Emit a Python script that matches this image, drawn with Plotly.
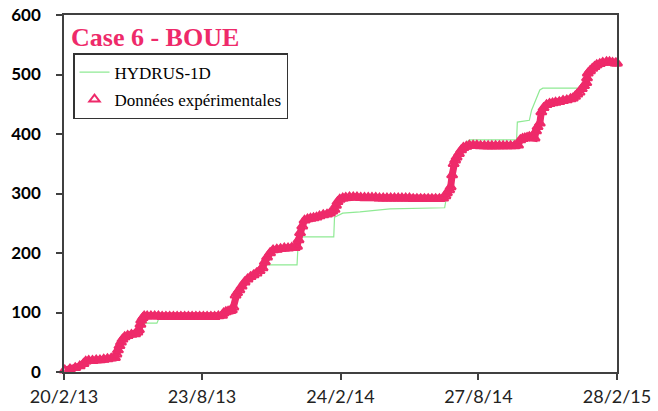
import datetime as dt
import plotly.graph_objects as go

# Start date of the monitoring period; series below are given as day offsets from it
START = dt.date(2013, 2, 20)

# Measured cumulative values (Données expérimentales)
exp_day = [1, 8, 15, 21, 26, 29, 33, 38, 43, 48, 53, 58, 63, 68, 70, 72, 74, 76, 78, 81,
           85, 90, 95, 98, 100, 102, 103, 105, 107,
           111, 116, 121, 126, 131, 136, 141, 146, 151, 156, 161, 166, 171, 176, 181, 186,
           191, 196, 201, 206, 211,
           213, 216, 219, 222, 224, 226, 229, 231, 234, 237, 241, 245, 249, 253, 257, 261,
           265, 268, 271, 275, 279, 284, 289, 294, 299, 304, 308, 311, 313, 315, 318, 321,
           325, 329, 333, 337, 341, 346, 351, 355, 358, 361, 363, 365, 368, 372, 376, 381,
           386, 391, 396, 401, 406, 411, 416, 421, 426, 431, 436, 441, 446, 451, 456, 461,
           466, 471, 476, 481, 486, 491, 496, 501, 506,
           509, 511, 514, 516, 518, 520, 522, 524, 527, 530, 533, 537, 541,
           546, 551, 556, 561, 566, 571, 576, 581, 586, 591, 596, 601, 606,
           609, 612, 615, 618, 621, 624, 628, 630, 632, 635, 637, 640, 644, 648, 652, 656,
           661, 666, 671, 676, 679, 682, 685, 688, 691, 694, 697, 698, 699, 702, 705, 708,
           711, 715, 719, 724, 728, 732, 736, 738]
exp_val = [3, 5, 7, 10, 14, 18, 19, 19, 20, 20, 21, 22, 23, 24, 30, 37, 44, 50, 55, 59,
           61, 63, 64, 67, 71, 80, 87, 91, 94,
           94, 94, 94, 94, 93, 93, 93, 93, 93, 93, 93, 93, 93, 93, 93, 93,
           93, 93, 93, 94, 95,
           99, 101, 102, 103, 104, 109, 129, 133, 138, 144, 151, 156, 160, 163, 166, 170,
           175, 185, 193, 200, 205, 206, 207, 208, 208, 209, 209, 211, 222, 234, 245, 255,
           257, 258, 259, 260, 262, 264, 265, 267, 270, 273, 280, 286, 290, 292, 293, 294,
           294, 294, 293, 293, 293, 293, 293, 292, 292, 292, 292, 292, 292, 292, 292, 292,
           291, 291, 291, 291, 291, 291, 291, 291, 292,
           296, 301, 306, 311, 331, 350, 356, 361, 367, 373, 377, 379, 381,
           381, 381, 380, 380, 380, 380, 380, 380, 380, 380, 380, 380, 381,
           390, 392, 393, 394, 395, 394, 393, 405, 412, 418, 437, 444, 449, 451, 452, 453,
           454, 456, 457, 459, 460, 463, 467, 470, 476, 481, 486, 494, 502, 506, 510, 513,
           516, 518, 520, 521, 521, 520, 519, 519]

# Simulated cumulative values (HYDRUS-1D)
hyd_day = [0, 10, 25, 30, 68, 75, 82, 95, 100, 103, 124, 127, 211, 224, 228, 239, 265, 271,
           311, 312, 315, 319, 360, 361, 372, 395, 435, 508, 512, 517, 528, 541, 604, 605,
           621, 624, 635, 639, 692, 697, 711, 724, 738]
hyd_val = [0, 3, 10, 17, 22, 45, 57, 62, 68, 82, 82, 91, 92, 100, 124, 143, 171, 180,
           180, 205, 225, 227, 227, 260, 267, 269, 274, 276, 306, 348, 376, 390, 390, 420,
           423, 440, 474, 477, 477, 490, 516, 521, 519]

tick_dates = ["2013-02-20", "2013-08-23", "2014-02-24", "2014-08-27", "2015-02-28"]
tick_text = ["20/2/13", "23/8/13", "24/2/14", "27/8/14", "28/2/15"]

PINK = "#EE2A6A"
GREEN = "#8FEA94"
AXIS = "#404040"

# plot-area geometry in pixels
L, R, T, B = 64, 617, 15, 372
W, H = 658, 411


def to_dates(days):
    return [START + dt.timedelta(days=d) for d in days]


fig = go.Figure()
fig.add_trace(go.Scatter(
    x=to_dates(hyd_day), y=hyd_val, mode="lines", name="HYDRUS-1D",
    line=dict(color=GREEN, width=1.2), legendgroup="a",
))
# dense daily measurements merge into a solid band; the band is drawn under the markers
fig.add_trace(go.Scatter(
    x=to_dates(exp_day), y=exp_val, mode="lines", showlegend=False,
    line=dict(color=PINK, width=7), cliponaxis=False, hoverinfo="skip",
))
fig.add_trace(go.Scatter(
    x=to_dates(exp_day), y=exp_val, mode="markers", name="Données expérimentales",
    marker=dict(symbol="triangle-up-open", size=9, color=PINK, line=dict(width=2, color=PINK)),
    cliponaxis=False, legendgroup="b",
))

fig.update_layout(
    width=W, height=H,
    margin=dict(l=L, r=W - R, t=T, b=H - B, autoexpand=False),
    paper_bgcolor="white", plot_bgcolor="white",
    showlegend=True,
    legend=dict(
        x=(73 - L) / (R - L), y=(B - 53) / (B - T), xanchor="left", yanchor="top",
        bgcolor="white", bordercolor="#333333", borderwidth=1.5,
        font=dict(family="Liberation Serif", size=17, color="black"),
        traceorder="grouped", tracegroupgap=2,
        itemwidth=30,
    ),
    annotations=[dict(
        text="<b>Case 6 - BOUE</b>",
        x=(69 - L) / (R - L), y=(B - 37) / (B - T), xref="paper", yref="paper",
        showarrow=False,
        font=dict(family="Liberation Serif", size=26, color=PINK),
        xanchor="left", yanchor="middle",
    )],
)

fig.update_xaxes(
    type="date", range=["2013-02-20", "2015-02-28"],
    tickvals=tick_dates, ticktext=tick_text, automargin=False,
    showgrid=False, zeroline=False,
    showline=True, linecolor=AXIS, linewidth=1.5, mirror=True,
    ticks="outside", ticklen=6, tickwidth=1.5, tickcolor=AXIS,
    tickfont=dict(family="Lato", size=18, color="#222222"),
    ticklabelstandoff=2,
)
fig.update_yaxes(
    range=[0, 600], tickvals=[0, 100, 200, 300, 400, 500, 600], automargin=False,
    showgrid=False, zeroline=False,
    showline=True, linecolor=AXIS, linewidth=1.5, mirror=True,
    ticks="outside", ticklen=6, tickwidth=1.5, tickcolor=AXIS,
    tickfont=dict(family="Lato", size=17, color="black", weight="bold"),
    ticklabelstandoff=12,
)

fig.write_html("out.html")
